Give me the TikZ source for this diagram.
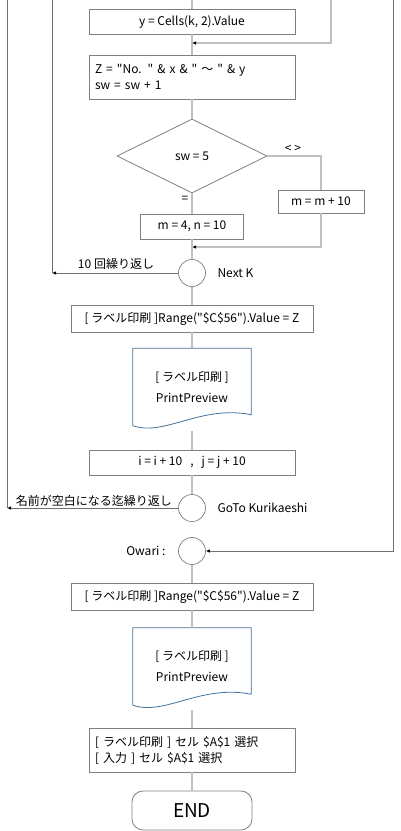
\documentclass[tikz,border=0pt]{standalone}
\usepackage{fontspec}
\setmainfont{Noto Sans CJK JP}[Ligatures=TeXOff]
\usetikzlibrary{shapes.geometric,arrows.meta}
\definecolor{flowline}{HTML}{BFBFBF}
\definecolor{loopline}{HTML}{707070}
\definecolor{boxline}{HTML}{7F7F7F}
\definecolor{docline}{HTML}{41719C}

\begin{document}
\begin{tikzpicture}[x=1pt, y=-1pt, font=\fontsize{12}{15}\selectfont,
    proc/.style={draw=boxline, line width=0.8pt, minimum width=206pt,
        minimum height=25pt, inner sep=0pt},
    procleft/.style={proc, text width=194pt, inner xsep=6pt, align=left},
    wideproc/.style={proc, minimum width=242pt, minimum height=27pt},
    decide/.style={diamond, draw=boxline, line width=0.8pt, aspect=2,
        minimum width=150pt, minimum height=74pt, inner sep=0pt},
    joint/.style={circle, draw=loopline, line width=0.6pt, minimum size=27pt,
        inner sep=0pt},
    docbox/.style={minimum width=118pt, minimum height=77pt, inner sep=0pt,
        align=center},
    flow/.style={draw=flowline, line width=1.6pt},
    loop/.style={draw=loopline, line width=0.9pt},
    arrowend/.style={-{Latex[length=4pt,width=3.5pt,color=black]}}]
        \useasboundingbox (0,0) rectangle (400,831);

        % loop from the top
        \coordinate (top) at (192,0);
        \coordinate (rtop) at (331,0);
        \coordinate (j0) at (192,43);
        \node[proc] (b1) at (192,21.5) {y = Cells(k, 2).Value};
        \node[procleft, minimum height=44pt] (b2) at (192,77)
            {Z = "No. " \& x \& " 〜 " \& y\\[1pt]sw = sw + 1};
        \node[decide] (d1) at (192,156) {sw = 5};
        \node[proc, minimum width=86pt, minimum height=23pt] (bR) at (321,201.5)
            {m = m + 10};
        \node[proc, minimum width=103pt] (bM) at (192,226.5) {m = 4, n = 10};
        \node (ne) at (293,149) {< >};
        \node (eq) at (185,199) {=};
        \coordinate (j1) at (192,247);
        \node[joint] (c1) at (192,273) {};
        \node[anchor=west] (nextk) at (214,273) {Next K};
        \node (lbl1) at (116,264) {10 回繰り返し};
        \coordinate (l1top) at (52,0);
        \coordinate (l1) at (52,273);

        % print part
        \node[wideproc] (b3) at (192,318.5)
            {[ ラベル印刷 ]Range("\$C\$56").Value = Z};
        \node[docbox] (doc1) at (192,387) {[ ラベル印刷 ]\\[6pt]PrintPreview};
        \node[proc] (b4) at (192,462.5) {i = i + 10 \ \ , \ \ j = j + 10};
        \node[joint] (c2) at (192,508) {};
        \node[anchor=west] (goto) at (214,508) {GoTo Kurikaeshi};
        \node (lbl2) at (94,501) {名前が空白になる迄繰り返し};
        \coordinate (l2top) at (7,0);
        \coordinate (l2) at (7,508);

        % end part
        \coordinate (r2top) at (393,0);
        \node[joint] (c3) at (192,551) {};
        \node[anchor=east] (owari) at (169,551) {Owari :};
        \node[wideproc] (b5) at (192,596.5)
            {[ ラベル印刷 ]Range("\$C\$56").Value = Z};
        \node[docbox] (doc2) at (192,666.5) {[ ラベル印刷 ]\\[6pt]PrintPreview};
        \node[procleft, minimum height=44pt] (b6) at (192,750)
            {[ ラベル印刷 ] セル \$A\$1 選択\\[1pt][ 入力 ] セル \$A\$1 選択};
        \node[draw=boxline, line width=0.8pt, rounded corners=11pt,
            minimum width=120pt, minimum height=39pt,
            font=\fontsize{19}{22}\selectfont] (endn) at (192,810.5) {END};

        % document shapes
        \foreach \d in {doc1,doc2}
            \draw[docline, line width=0.8pt] (\d.south west) -- (\d.north west)
                -- (\d.north east) -- ([yshift=11pt]\d.south east)
                .. controls +(-51,-10) and +(32,11) .. (\d.south west);

        % connectors
        \draw[flow] (top) -- (b1);
        \draw[flow] (b1) -- (b2);
        \draw[flow, arrowend] (rtop) |- (j0);
        \draw[flow] (b2) -- (d1);
        \draw[flow] (d1.east) -| (bR.north);
        \draw[flow] (d1.south) -- (bM.north);
        \draw[flow, arrowend] (bR.south) |- (j1);
        \draw[flow] (bM) -- (c1);
        \draw[flow] (c1) -- (b3);
        \draw[flow] (b3) -- (doc1);
        \draw[flow, shorten <=5pt] (doc1) -- (b4);
        \draw[flow] (b4) -- (c2);
        \draw[flow] (c3) -- (b5);
        \draw[flow] (b5) -- (doc2);
        \draw[flow, shorten <=5pt] (doc2) -- (b6);
        \draw[flow] (b6) -- (endn);

        % loop lines
        \draw[loop] (l1top) -- (l1);
        \draw[loop, arrowend] (c1.west) -- (l1);
        \draw[loop] (l2top) -- (l2);
        \draw[loop, arrowend] (c2.west) -- (l2);
        \draw[loop, arrowend] (r2top) |- (c3.east);
    \end{tikzpicture}
\end{document}
